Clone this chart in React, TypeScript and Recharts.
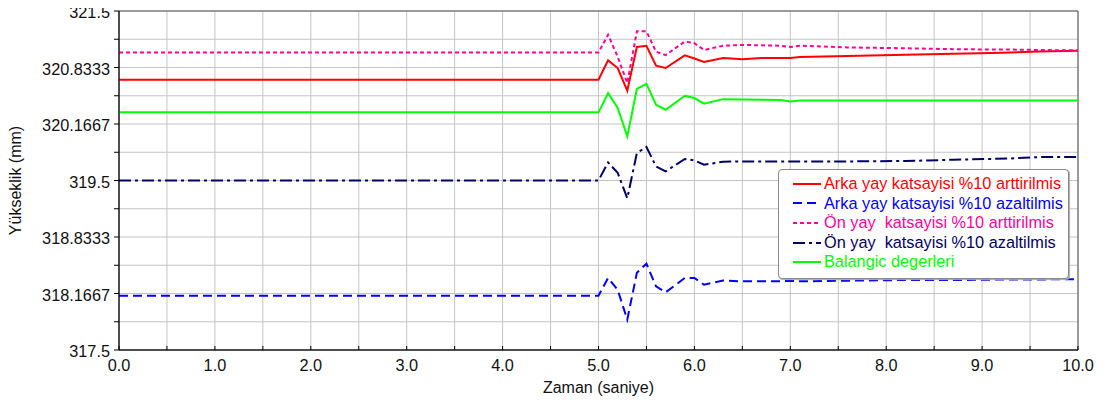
import React from 'react';
import { LineChart, Line, XAxis, YAxis, CartesianGrid, ReferenceArea } from 'recharts';

const times = [0, 5.0, 5.1, 5.2, 5.3, 5.4, 5.5, 5.6, 5.7, 5.9, 6.0, 6.1, 6.3, 6.5, 6.7, 6.9, 7.0, 7.1, 7.6, 8.2, 8.7, 9.1, 9.3, 9.6, 10.0];

const arkaArttirilmis = [320.689, 320.689, 320.917, 320.827, 320.56, 321.075, 321.09, 320.855, 320.827, 320.976, 320.94, 320.898, 320.945, 320.93, 320.945, 320.945, 320.945, 320.957, 320.97, 320.985, 320.996, 321.004, 321.01, 321.023, 321.03];
const arkaAzaltilmis = [318.141, 318.141, 318.35, 318.21, 317.858, 318.41, 318.518, 318.25, 318.18, 318.35, 318.35, 318.27, 318.32, 318.31, 318.31, 318.31, 318.318, 318.31, 318.318, 318.326, 318.326, 318.33, 318.333, 318.333, 318.335];
const onArttirilmis = [321.011, 321.011, 321.22, 320.96, 320.65, 321.26, 321.26, 321.02, 320.98, 321.14, 321.12, 321.04, 321.09, 321.10, 321.095, 321.09, 321.075, 321.09, 321.07, 321.06, 321.05, 321.045, 321.045, 321.04, 321.035];
const onAzaltilmis = [319.5, 319.5, 319.714, 319.59, 319.29, 319.824, 319.895, 319.666, 319.607, 319.754, 319.737, 319.686, 319.722, 319.725, 319.725, 319.725, 319.725, 319.725, 319.725, 319.73, 319.745, 319.755, 319.76, 319.777, 319.777];
const baslangic = [320.304, 320.304, 320.532, 320.355, 320.02, 320.58, 320.64, 320.394, 320.335, 320.50, 320.473, 320.406, 320.46, 320.455, 320.452, 320.45, 320.433, 320.445, 320.445, 320.445, 320.445, 320.445, 320.445, 320.445, 320.445];

const xTicks = [0, 0.5, 1, 1.5, 2, 2.5, 3, 3.5, 4, 4.5, 5, 5.5, 6, 6.5, 7, 7.5, 8, 8.5, 9, 9.5, 10];
const yTicks = [317.5, 317.8333, 318.1667, 318.5, 318.8333, 319.1667, 319.5, 319.8333, 320.1667, 320.5, 320.8333, 321.1667, 321.5];
const yTickLabels = ['317.5', '', '318.1667', '', '318.8333', '', '319.5', '', '320.1667', '', '320.8333', '', '321.5'];

const seriesNames = [
  'Arka yay katsayisi %10 arttirilmis',
  'Arka yay katsayisi %10 azaltilmis',
  'Ön yay  katsayisi %10 arttirilmis',
  'Ön yay  katsayisi %10 azaltilmis',
  'Balangic degerleri',
];
const seriesKeys = ['arkaArt', 'arkaAz', 'onArt', 'onAz', 'bas'];
const seriesValues = [arkaArttirilmis, arkaAzaltilmis, onArttirilmis, onAzaltilmis, baslangic];
const seriesColors = ['#ff0000', '#0000ff', '#ff0099', '#000066', '#00ff00'];
const seriesDash = ['', '9 5', '4 3', '12 4 3 4', ''];
const drawOrder = [0, 2, 4, 3, 1];

const data = times.map((t, i) => {
  const row: Record<string, number> = { t };
  seriesKeys.forEach((k, s) => {
    row[k] = seriesValues[s][i];
  });
  return row;
});

const FONT = '"Liberation Sans", Arial, sans-serif';
const TICK_FS = 16.3;
const X_TICK_SIZE = 4;
const X_TICK_MARGIN = 5;

const xFmt = (v: number) => (Math.abs(v - Math.round(v)) < 1e-6 ? v.toFixed(1) : '');
const yFmt = (v: number) => {
  const i = yTicks.findIndex((y) => Math.abs(y - v) < 1e-3);
  return i >= 0 ? yTickLabels[i] : '';
};

function XTick(props: any) {
  const { x, y, payload } = props;
  const axisY = y - X_TICK_SIZE - X_TICK_MARGIN;
  const label = xFmt(payload.value);
  return (
    <g>
      <line x1={x} x2={x} y1={axisY} y2={axisY - 4} stroke="#000" strokeWidth={1} />
      {label && (
        <text x={x} y={y} dy="0.71em" textAnchor="middle" fill="#111" fontSize={TICK_FS} fontFamily={FONT}>
          {label}
        </text>
      )}
    </g>
  );
}

function YTick(props: any) {
  const { x, y, payload } = props;
  const label = yFmt(payload.value);
  if (!label) return null;
  return (
    <text x={x} y={y + 1.5} dy="0.355em" textAnchor="end" fill="#111" fontSize={TICK_FS} fontFamily={FONT}>
      {label}
    </text>
  );
}

function LegendBox() {
  return (
    <div
      style={{
        position: 'absolute',
        left: 778,
        top: 169,
        width: 289,
        height: 104,
        border: '1px solid #8a8a8a',
        borderRadius: 4,
        boxShadow: '1px 1px 1px #aaa',
        background: '#fff',
        fontFamily: FONT,
        fontSize: 16.3,
        paddingTop: 4,
        boxSizing: 'content-box',
      }}
    >
      {seriesNames.map((name, i) => (
        <div key={name} style={{ height: 19.6, display: 'flex', alignItems: 'center', whiteSpace: 'pre' }}>
          <svg width={44} height={10} style={{ flex: 'none' }}>
            <line
              x1={14}
              x2={42}
              y1={5}
              y2={5}
              stroke={seriesColors[i]}
              strokeWidth={2}
              strokeDasharray={seriesDash[i] || undefined}
            />
          </svg>
          <span style={{ color: seriesColors[i], marginLeft: 1, lineHeight: '19.6px' }}>{name}</span>
        </div>
      ))}
    </div>
  );
}

export default function App() {
  return (
    <div style={{ position: 'relative', left: -8, top: -8, width: 1105, height: 403, background: '#fff' }}>
      <LineChart
        width={1105}
        height={403}
        data={data}
        margin={{ top: 11, right: 27, left: 0, bottom: 0 }}
        style={{ fontFamily: FONT }}
      >
        <CartesianGrid stroke="#c4c4c4" strokeWidth={1} />
        <XAxis
          dataKey="t"
          type="number"
          domain={[0, 10]}
          ticks={xTicks}
          interval={0}
          height={53}
          tickSize={X_TICK_SIZE}
          tickMargin={X_TICK_MARGIN}
          tickLine={false}
          stroke="#000"
          tick={<XTick />}
          label={{ value: 'Zaman (saniye)', position: 'insideBottom', offset: 10, fill: '#111', fontSize: 16, fontFamily: FONT }}
        />
        <YAxis
          type="number"
          domain={[317.5, 321.5]}
          ticks={yTicks}
          interval={0}
          width={119}
          tickSize={5}
          tickMargin={4}
          stroke="#000"
          allowDataOverflow
          tick={<YTick />}
          label={{ value: 'Yükseklik (mm)', angle: -90, position: 'insideLeft', offset: 15, fill: '#111', fontSize: 16, fontFamily: FONT, style: { textAnchor: 'middle' } }}
        />
        <ReferenceArea x1={0} x2={10} y1={317.5} y2={321.5} fill="none" stroke="#555" strokeWidth={1} />
        {drawOrder.map((s) => (
          <Line
            key={seriesKeys[s]}
            dataKey={seriesKeys[s]}
            name={seriesNames[s]}
            type="linear"
            stroke={seriesColors[s]}
            strokeWidth={2}
            strokeDasharray={seriesDash[s] || undefined}
            dot={false}
            activeDot={false}
            isAnimationActive={false}
          />
        ))}
      </LineChart>
      <LegendBox />
    </div>
  );
}
